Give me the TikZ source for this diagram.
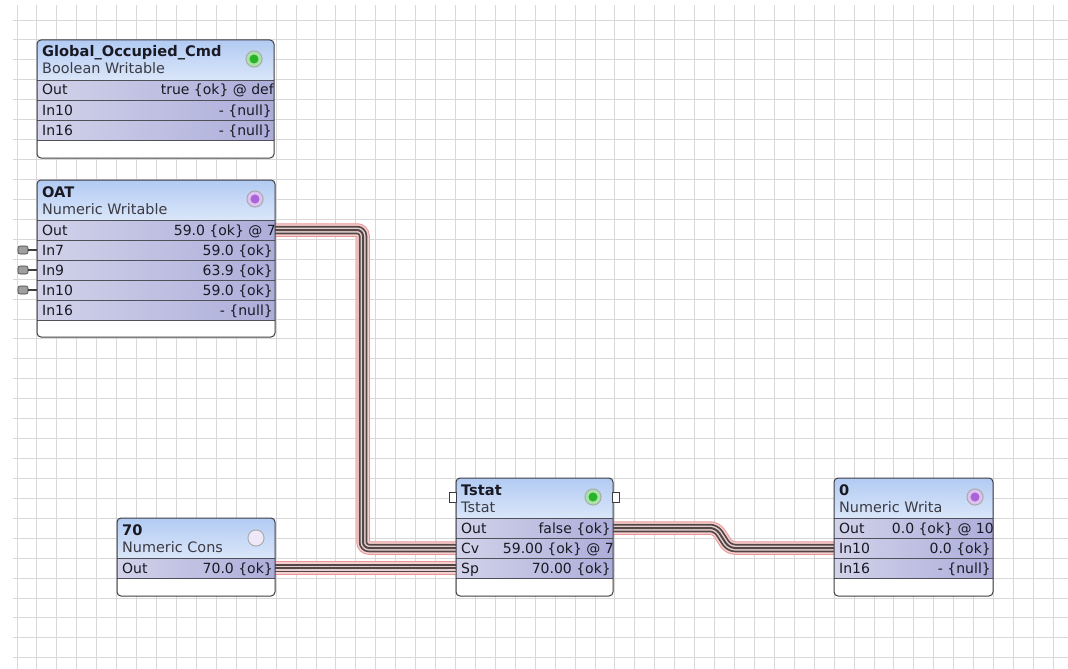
\documentclass[tikz,border=0pt]{standalone}
\usepackage{fontspec}
\setmainfont{DejaVu Sans}
\definecolor{hdrtop}{RGB}{178,203,243}
\definecolor{hdrbot}{RGB}{218,230,249}
\definecolor{rowl}{RGB}{210,210,234}
\definecolor{rowr}{RGB}{172,174,218}
\definecolor{sepc}{RGB}{80,80,88}
\definecolor{bord}{RGB}{60,60,66}
\definecolor{gridc}{RGB}{216,216,216}
\definecolor{whaloedge}{RGB}{232,150,150}
\definecolor{whalo}{RGB}{246,208,208}
\definecolor{wdark}{RGB}{85,70,70}
\definecolor{wlight}{RGB}{226,206,206}
\definecolor{cgreen}{RGB}{40,180,40}
\definecolor{cpurple}{RGB}{170,100,215}
\definecolor{cpale}{RGB}{238,232,248}
\definecolor{txt}{RGB}{25,25,35}
\tikzset{
  gridl/.style={draw=gridc, line width=0.9pt},
  sepline/.style={draw=sepc, line width=0.8pt},
  blkbox/.style={draw=bord, line width=1pt, rounded corners=4pt, inner sep=0pt, outer sep=0pt},
  ttl/.style={anchor=base west, inner sep=0pt, font=\bfseries\fontsize{14.6}{16}\selectfont, text=txt},
  sub/.style={anchor=base west, inner sep=0pt, font=\fontsize{14.4}{16}\selectfont, text=txt!85},
  lbl/.style={anchor=base west, inner sep=0pt, font=\fontsize{14}{16}\selectfont, text=txt},
  val/.style={anchor=base east, inner sep=0pt, font=\fontsize{14}{16}\selectfont, text=txt},
  wire/.style={line width=2pt, draw=wdark, rounded corners=6pt,
    preaction={draw=whaloedge, line width=13.5pt},
    preaction={draw=whalo, line width=11.5pt},
    preaction={draw=wdark, line width=8.5pt},
    preaction={draw=wlight, line width=5pt}},
  stubbox/.style={fill=gray!75, draw=gray!50!black, line width=0.6pt, rounded corners=2pt, minimum width=10pt, minimum height=8pt, inner sep=0pt},
  stubline/.style={draw=gray!50!black, line width=1.4pt},
  portbox/.style={draw=bord, fill=white, line width=0.8pt, minimum width=7pt, minimum height=10pt, inner sep=0pt},
  dot/.style={circle, inner sep=0pt, minimum size=12pt, line width=3pt, preaction={draw=gray!70, line width=5pt}},
}
\newcommand\drawblock[7]{%
  \pgfmathsetmacro\bR{#2+#4}%
  \pgfmathsetmacro\bB{#3+#6}%
  \pgfmathsetmacro\bH{#3+40}%
  \pgfmathsetmacro\bRB{#3+40+20*#5}%
  \begin{scope}
    \clip[rounded corners=4pt] (#2,#3) rectangle (\bR,\bB);
    \fill[white] (#2,#3) rectangle (\bR,\bB);
    \shade[top color=hdrtop,bottom color=hdrbot] (#2,#3) rectangle (\bR,\bH);
    \shade[left color=rowl,right color=rowr] (#2,\bH) rectangle (\bR,\bRB);
    \foreach \k in {0,...,#5} {\draw[sepline] (#2,\bH+20*\k) -- (\bR,\bH+20*\k);}
    #7
  \end{scope}
  \node[blkbox, minimum width=#4pt, minimum height=#6pt, anchor=north west] (#1) at (#2,#3) {};
}
\begin{document}
\begin{tikzpicture}[x=1pt,y=-1pt]
\useasboundingbox (0,0) rectangle (1068,669);
\fill[white] (0,0) rectangle (1068,669);
% grid
\begin{scope}
  \clip (13,5) rectangle (1068,669);
  \foreach \i in {0,...,53} {\draw[gridl] (17+19.93*\i,5) -- (17+19.93*\i,669);}
  \foreach \j in {-1,...,33} {\draw[gridl] (13,20+19.93*\j) -- (1068,20+19.93*\j);}
\end{scope}

% port coordinates
\coordinate (oatout) at (275,230);
\coordinate (sevout) at (275,568);
\coordinate (tstout) at (613,528);
\coordinate (tstcv) at (456,548);
\coordinate (tstsp) at (456,568);
\coordinate (zin) at (834,548);
\coordinate (bendA) at (363,230);
\coordinate (bendB) at (363,548);
\coordinate (bendC) at (716,528);
\coordinate (bendD) at (729,548);

% wires
\draw[wire] (oatout) -- (bendA) -- (bendB) -- (tstcv);
\draw[wire] (sevout) -- (tstsp);
\draw[wire] (tstout) -- (bendC) -- (bendD) -- (zin);

% Global_Occupied_Cmd
\drawblock{glob}{37}{40}{237}{3}{118}{%
  \node[ttl] (globt) at (42,57) {Global\_Occupied\_Cmd};
  \node[sub] (globs) at (42,74) {Boolean Writable};
  \node[lbl] (g1) at (42,95) {Out};   \node[val] (g1v) at (274,95) {true \{ok\} @ def};
  \node[lbl] (g2) at (42,115) {In10}; \node[val] (g2v) at (272,115) {- \{null\}};
  \node[lbl] (g3) at (42,135) {In16}; \node[val] (g3v) at (272,135) {- \{null\}};
}
\node[dot, fill=cgreen, draw=cgreen!40!white] (gdot) at (254,59) {};

% OAT
\drawblock{oat}{37}{180}{238}{5}{157}{%
  \node[ttl] (oatt) at (42,197) {OAT};
  \node[sub] (oats) at (42,214) {Numeric Writable};
  \node[lbl] (o1) at (42,235) {Out};  \node[val] (o1v) at (276,235) {59.0 \{ok\} @ 7};
  \node[lbl] (o2) at (42,255) {In7};  \node[val] (o2v) at (273,255) {59.0 \{ok\}};
  \node[lbl] (o3) at (42,275) {In9};  \node[val] (o3v) at (273,275) {63.9 \{ok\}};
  \node[lbl] (o4) at (42,295) {In10}; \node[val] (o4v) at (273,295) {59.0 \{ok\}};
  \node[lbl] (o5) at (42,315) {In16}; \node[val] (o5v) at (273,315) {- \{null\}};
}
\node[dot, fill=cpurple, draw=cpurple!40!white] (odot) at (255,199) {};
\foreach \y/\n in {250/s7,270/s9,290/s10} {
  \node[stubbox] (\n) at (23,\y) {};
  \draw[stubline] (\n.east) -- (37,\y);
}

% 70
\drawblock{sev}{117}{518}{158}{1}{78}{%
  \node[ttl] (sevt) at (122,535) {70};
  \node[sub] (sevs) at (122,552) {Numeric Cons};
  \node[lbl] (s1) at (122,573) {Out}; \node[val] (s1v) at (273,573) {70.0 \{ok\}};
}
\node[dot, fill=cpale, draw=cpale] (sdot) at (256,538) {};

% Tstat
\drawblock{tst}{456}{478}{157}{3}{118}{%
  \node[ttl] (tstt) at (461,495) {Tstat};
  \node[sub] (tsts) at (461,512) {Tstat};
  \node[lbl] (t1) at (461,533) {Out}; \node[val] (t1v) at (611,533) {false \{ok\}};
  \node[lbl] (t2) at (461,553) {Cv};  \node[val] (t2v) at (614,553) {59.00 \{ok\} @ 7};
  \node[lbl] (t3) at (461,573) {Sp};  \node[val] (t3v) at (611,573) {70.00 \{ok\}};
}
\node[dot, fill=cgreen, draw=cgreen!40!white] (tdot) at (593,497) {};
\node[portbox] (tpl) at (453,497) {};
\node[portbox] (tpr) at (616,497) {};

% 0
\drawblock{zero}{834}{478}{159}{3}{118}{%
  \node[ttl] (zt) at (839,495) {0};
  \node[sub] (zs) at (839,512) {Numeric Writa};
  \node[lbl] (z1) at (839,533) {Out};  \node[val] (z1v) at (994,533) {0.0 \{ok\} @ 10};
  \node[lbl] (z2) at (839,553) {In10}; \node[val] (z2v) at (991,553) {0.0 \{ok\}};
  \node[lbl] (z3) at (839,573) {In16}; \node[val] (z3v) at (991,573) {- \{null\}};
}
\node[dot, fill=cpurple, draw=cpurple!40!white] (zdot) at (975,497) {};
\end{tikzpicture}
\end{document}
